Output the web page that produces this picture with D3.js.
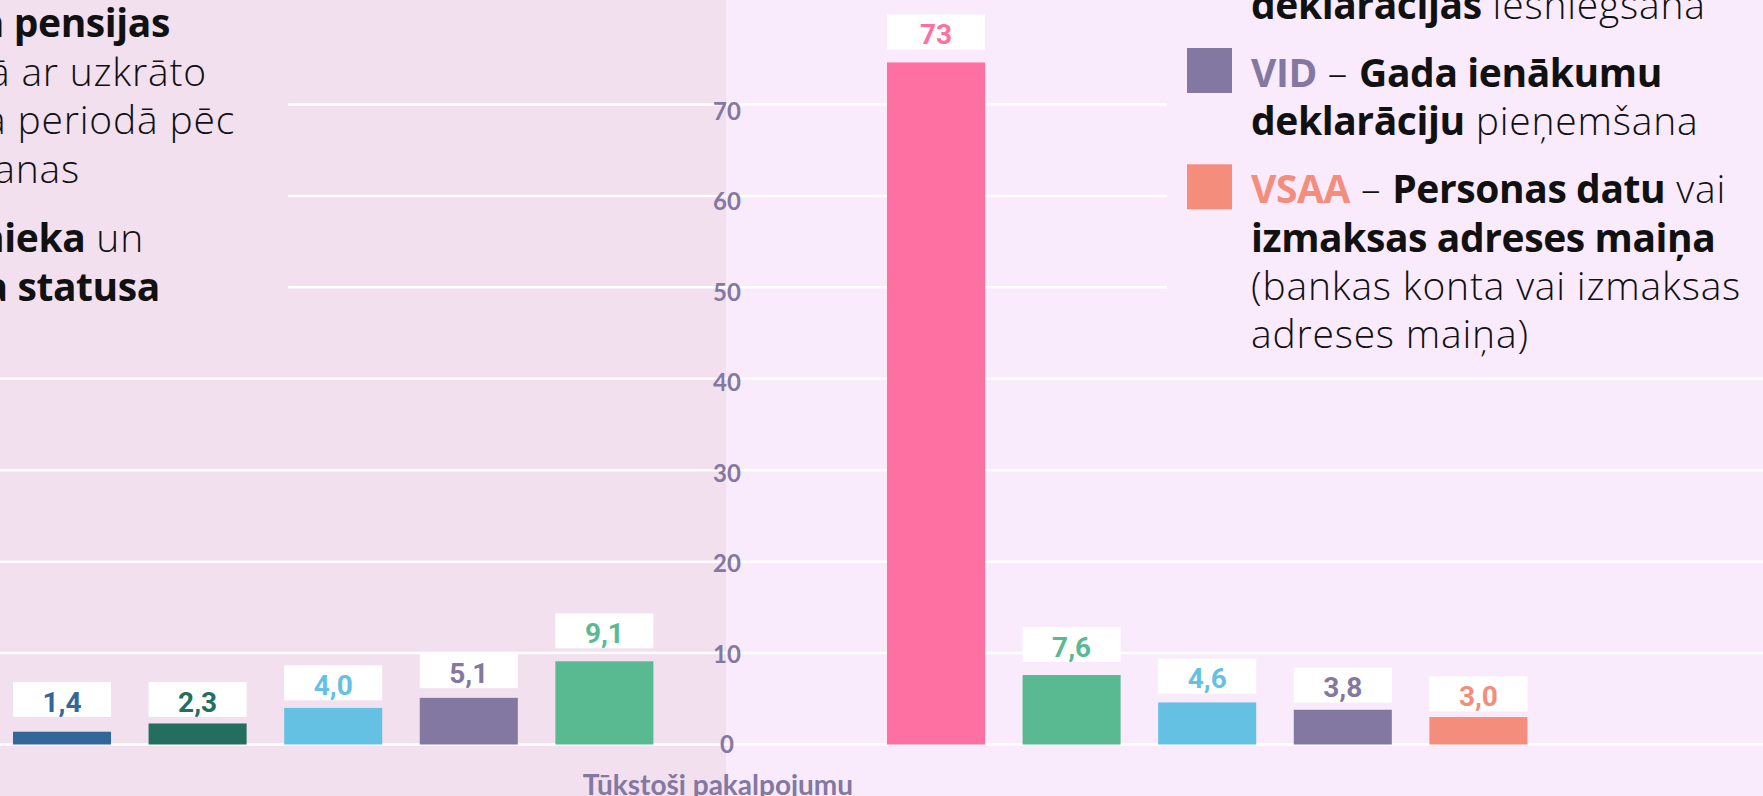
<!DOCTYPE html>
<html>
<head>
<meta charset="utf-8">
<script src="https://cdn.jsdelivr.net/npm/d3@7"></script>
<style>
  html, body { margin: 0; padding: 0; overflow: hidden; background: #f9ebfc; }
  svg { display: block; }
</style>
</head>
<body>
<div id="chart"></div>
<script>
// --- data ---
const leftKeys = ["L1", "L2", "L3", "L4", "L5"];
const leftValues = [1.4, 2.3, 4.0, 5.1, 9.1];
const leftLabels = ["1,4", "2,3", "4,0", "5,1", "9,1"];
const leftColors = ["#33679a", "#246e5f", "#65c1e3", "#8378a1", "#59ba91"];

const rightKeys = ["R1", "R2", "R3", "R4", "R5"];
const rightValues = [74.6, 7.6, 4.6, 3.8, 3.0];
const rightLabels = ["73", "7,6", "4,6", "3,8", "3,0"];
const rightColors = ["#ff70a2", "#59ba91", "#65c1e3", "#8378a1", "#f48d7c"];

const yTicks = [0, 10, 20, 30, 40, 50, 60, 70];
const axisTitle = "Tūkstoši pakalpojumu";

// legend text (left one is cut by the page edge)
const leftLegend = [
  [["Vecuma pensijas", 700]],
  [["piešķiršana kopā ar uzkrāto", 300]],
  [["fondēto pensiju kapitāla periodā pēc", 300]],
  [["pieprasījuma iesniegšanas", 300]],
  [["Apgādnieka", 700], [" un", 300]],
  [["invalīda statusa", 700]]
];
const rightLegend = [
  { color: null, lines: [[["deklarācijas", 700], [" iesniegšana", 300]]] },
  { color: "#8378a1", lines: [
      [["VID", 700, "#8378a1"], [" – ", 300], ["Gada ienākumu", 700]],
      [["deklarāciju", 700], [" pieņemšana", 300]]
  ]},
  { color: "#f48d7c", lines: [
      [["VSAA", 700, "#f48d7c"], [" – ", 300], ["Personas datu", 700], [" vai", 300]],
      [["izmaksas adreses maiņa", 700]],
      [["(bankas konta vai izmaksas", 300]],
      [["adreses maiņa)", 300]]
  ]}
];

const width = 1763, height = 796;
const splitX = 726;
const legendFont = "'Open Sans', Lato, sans-serif";
const axisFont = "Lato, 'Open Sans', sans-serif";
const spacing = w => (w >= 600 ? "-0.4px" : "0.8px");

const svg = d3.select("#chart").append("svg")
  .attr("width", width).attr("height", height);

// panels
svg.append("rect").attr("x", 0).attr("y", 0).attr("width", splitX).attr("height", height).attr("fill", "#f2e0ef");
svg.append("rect").attr("x", splitX).attr("y", 0).attr("width", width - splitX).attr("height", height).attr("fill", "#f9ebfc");

// scales
const y = d3.scaleLinear().domain([0, 70]).range([744.5, 104.5]);
const yLab = d3.scaleLinear().domain([0, 70]).range([744.5, 111]);

const xLeft = d3.scaleBand().domain(leftKeys).range([-5.8, 672.2]).paddingInner(0.277).paddingOuter(0.1385);
const xRight = d3.scaleBand().domain(rightKeys).range([868.2, 1546.2]).paddingInner(0.277).paddingOuter(0.1385);

// gridlines
svg.append("g").selectAll("line").data(yTicks).join("line")
  .attr("x1", 0).attr("x2", width)
  .attr("y1", d => y(d)).attr("y2", d => y(d))
  .attr("stroke", "#ffffff").attr("stroke-width", 2.5);

// legend backgrounds hide the upper gridlines
svg.append("rect").attr("x", 0).attr("y", 0).attr("width", 288).attr("height", 330).attr("fill", "#f2e0ef");
svg.append("rect").attr("x", 1167).attr("y", 0).attr("width", width - 1167).attr("height", 345).attr("fill", "#f9ebfc");

// bars + value labels
function drawGroup(keys, values, labels, colors, x) {
  const g = svg.append("g");
  const rows = keys.map((k, i) => ({ k, v: values[i], label: labels[i], color: colors[i] }));
  g.selectAll("rect.bar").data(rows).join("rect")
    .attr("class", "bar")
    .attr("x", d => x(d.k)).attr("width", x.bandwidth())
    .attr("y", d => y(d.v)).attr("height", d => y(0) - y(d.v))
    .attr("fill", d => d.color);
  const boxBottom = d => Math.min(y(d.v) - Math.min(1.9 * d.v, 13), y(0) - 27.5);
  g.selectAll("rect.box").data(rows).join("rect")
    .attr("class", "box")
    .attr("x", d => x(d.k)).attr("width", x.bandwidth())
    .attr("y", d => boxBottom(d) - 35).attr("height", 35)
    .attr("fill", "#ffffff");
  g.selectAll("text").data(rows).join("text")
    .attr("x", d => x(d.k) + x.bandwidth() / 2)
    .attr("y", d => boxBottom(d) - 5.5)
    .attr("text-anchor", "middle")
    .attr("font-family", "Roboto, sans-serif").attr("font-weight", 700).attr("font-size", 28)
    .attr("fill", d => d.color)
    .text(d => d.label);
}
drawGroup(leftKeys, leftValues, leftLabels, leftColors, xLeft);
drawGroup(rightKeys, rightValues, rightLabels, rightColors, xRight);

// y axis labels
svg.append("g").selectAll("text").data(yTicks).join("text")
  .attr("x", splitX + 1).attr("y", d => yLab(d))
  .attr("dy", "0.36em")
  .attr("text-anchor", "middle")
  .attr("font-family", axisFont).attr("font-weight", 700).attr("font-size", 24)
  .attr("fill", "#8378a1")
  .text(d => d);

// axis title
svg.append("text")
  .attr("x", splitX - 8).attr("y", 795)
  .attr("text-anchor", "middle")
  .attr("font-family", axisFont).attr("font-weight", 700).attr("font-size", 28)
  .attr("fill", "#8378a1")
  .text(axisTitle);

// left legend (right-aligned fragments, cut by the page edge)
const leftEnds = [170, 207, 235, 80, 144, 160];
const leftBase = [37, 85.5, 134, 182.5, 252, 300.5];
leftLegend.forEach((line, i) => {
  const t = svg.append("text")
    .attr("x", leftEnds[i]).attr("y", leftBase[i])
    .attr("text-anchor", "end")
    .attr("font-family", legendFont).attr("font-size", 39).attr("fill", "#111");
  line.forEach(p => t.append("tspan").attr("font-weight", p[1]).attr("letter-spacing", spacing(p[1])).text(p[0]));
});

// right legend
const lineH = 48.3, paraGap = 68;
let base = 19;
rightLegend.forEach((item, j) => {
  if (j > 0) base += paraGap;
  if (item.color) {
    svg.append("rect").attr("x", 1187).attr("y", base - 39).attr("width", 45).attr("height", 45).attr("fill", item.color);
  }
  item.lines.forEach((line, i) => {
    if (i > 0) base += lineH;
    const t = svg.append("text")
      .attr("x", 1251).attr("y", base)
      .attr("font-family", legendFont).attr("font-size", 39).attr("fill", "#111");
    line.forEach(p => t.append("tspan")
      .attr("font-weight", p[1]).attr("letter-spacing", spacing(p[1]))
      .attr("fill", p[2] || "#111").text(p[0]));
  });
});
</script>
</body>
</html>
